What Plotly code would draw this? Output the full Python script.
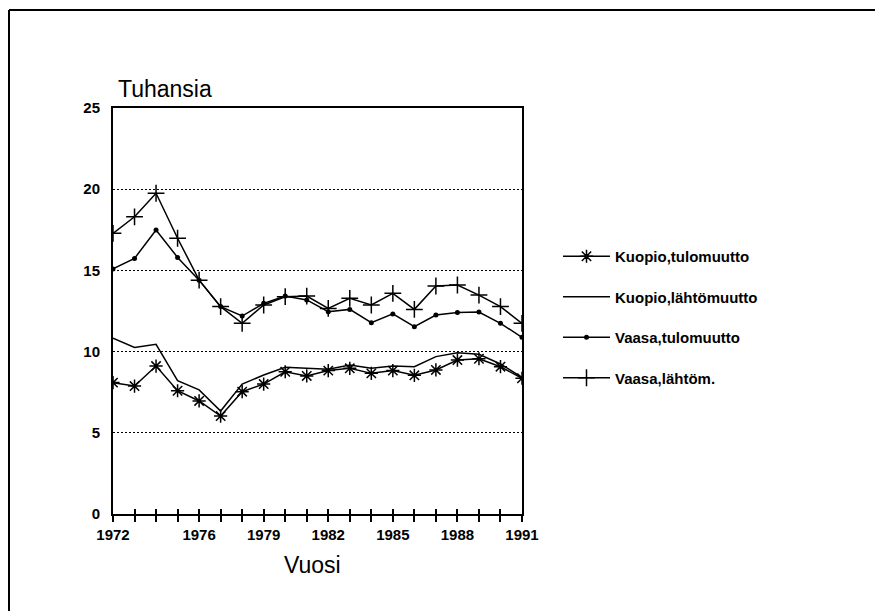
import plotly.graph_objects as go

years = list(range(1972, 1992))
kuopio_tulo = [8.09, 7.88, 9.11, 7.59, 6.96, 6.03, 7.53, 8.0, 8.76, 8.5,
               8.83, 8.97, 8.66, 8.83, 8.54, 8.87, 9.48, 9.56, 9.07, 8.36]
kuopio_lahto = [10.82, 10.26, 10.45, 8.21, 7.64, 6.34, 8.0, 8.56, 9.03, 8.97,
                8.91, 9.17, 8.97, 9.11, 9.07, 9.69, 9.93, 9.83, 9.24, 8.42]
vaasa_tulo = [15.09, 15.74, 17.49, 15.8, 14.4, 12.77, 12.19, 12.97, 13.42, 13.18,
              12.46, 12.6, 11.78, 12.32, 11.53, 12.25, 12.4, 12.44, 11.74, 10.88]
vaasa_lahto = [17.28, 18.3, 19.75, 16.98, 14.4, 12.77, 11.74, 12.87, 13.38, 13.42,
               12.66, 13.28, 12.87, 13.59, 12.6, 14.04, 14.1, 13.48, 12.77, 11.74]

x_tick_labels = {1972: "1972", 1976: "1976", 1979: "1979", 1982: "1982",
                 1985: "1985", 1988: "1988", 1991: "1991"}
y_ticks = [0, 5, 10, 15, 20, 25]

# page is offset by the 8px body margin
OFF = 8
W, H = 883 - OFF, 611 - OFF
L, T = 113 - OFF, 108 - OFF
PW, PH = 409, 406
R, B = W - L - PW, H - T - PH

def px(xp):  # page x -> paper
    return (xp - OFF - L) / PW

def py(yp):  # page y -> paper
    return (H - B - (yp - OFF)) / PH

FONT = "Liberation Sans, Arial, sans-serif"
BLACK = "#000000"
LW = 1.5

fig = go.Figure()
fig.add_trace(go.Scatter(
    x=years, y=kuopio_tulo, name="Kuopio,tulomuutto", mode="lines+markers",
    line=dict(color=BLACK, width=LW),
    marker=dict(symbol="asterisk-open", size=11, color=BLACK, line=dict(width=1.5, color=BLACK)),
    legendgroup="a"))
fig.add_trace(go.Scatter(
    x=years, y=kuopio_lahto, name="Kuopio,lähtömuutto", mode="lines",
    line=dict(color=BLACK, width=LW), legendgroup="b"))
fig.add_trace(go.Scatter(
    x=years, y=vaasa_tulo, name="Vaasa,tulomuutto", mode="lines+markers",
    line=dict(color=BLACK, width=LW),
    marker=dict(symbol="circle", size=5, color=BLACK), legendgroup="c"))
fig.add_trace(go.Scatter(
    x=years, y=vaasa_lahto, name="Vaasa,lähtöm.", mode="lines+markers",
    line=dict(color=BLACK, width=LW),
    marker=dict(symbol="cross-thin-open", size=12, color=BLACK, line=dict(width=1.5, color=BLACK)),
    legendgroup="d"))

fig.update_layout(
    width=W, height=H,
    margin=dict(l=L, r=R, t=T, b=B),
    paper_bgcolor="white", plot_bgcolor="white",
    font=dict(family=FONT, color=BLACK, size=16),
    showlegend=True,
    legend=dict(x=px(558), y=py(240), xanchor="left", yanchor="top",
                font=dict(size=15, family=FONT, color=BLACK, weight="bold"),
                tracegroupgap=18, itemwidth=47, bgcolor="rgba(0,0,0,0)"),
    xaxis=dict(range=[1972, 1991], tickvals=years,
               ticktext=[x_tick_labels.get(y, "") for y in years],
               ticks="outside", ticklen=6, tickwidth=1.5, tickcolor=BLACK,
               showline=True, linecolor=BLACK, linewidth=2, mirror=True,
               showgrid=False, zeroline=False,
               tickfont=dict(size=15, family=FONT, color=BLACK, weight="bold")),
    xaxis2=dict(range=[1972, 1991], tickvals=years, ticks="inside", ticklen=5,
                tickwidth=1.5, tickcolor=BLACK, showticklabels=False,
                overlaying="x", anchor="y", side="bottom", showgrid=False,
                zeroline=False, showline=False),
    yaxis=dict(range=[0, 25], tickvals=y_ticks, ticks="", ticklabelstandoff=8,
               showline=True, linecolor=BLACK, linewidth=2, mirror=True,
               showgrid=True, gridcolor=BLACK, gridwidth=1.2, griddash="2px,2px",
               zeroline=False,
               tickfont=dict(size=15, family=FONT, color=BLACK, weight="bold")),
)

fig.add_trace(go.Scatter(x=[years[0]], y=[None], xaxis="x2", showlegend=False,
                         hoverinfo="skip"))

fig.add_annotation(text="Tuhansia", xref="paper", yref="paper",
                   x=px(116), y=py(89), xanchor="left", yanchor="middle",
                   showarrow=False, font=dict(size=23, family=FONT, color=BLACK))
fig.add_annotation(text="Vuosi", xref="paper", yref="paper",
                   x=px(312), y=py(565), xanchor="center", yanchor="middle",
                   showarrow=False, font=dict(size=23, family=FONT, color=BLACK))

# outer frame (cropped on the right and bottom)
fig.add_shape(type="line", xref="paper", yref="paper",
              x0=px(9), x1=px(900), y0=py(10), y1=py(10),
              line=dict(color=BLACK, width=2))
fig.add_shape(type="line", xref="paper", yref="paper",
              x0=px(9), x1=px(9), y0=py(10), y1=py(650),
              line=dict(color=BLACK, width=2))

fig.write_html("out.html")
